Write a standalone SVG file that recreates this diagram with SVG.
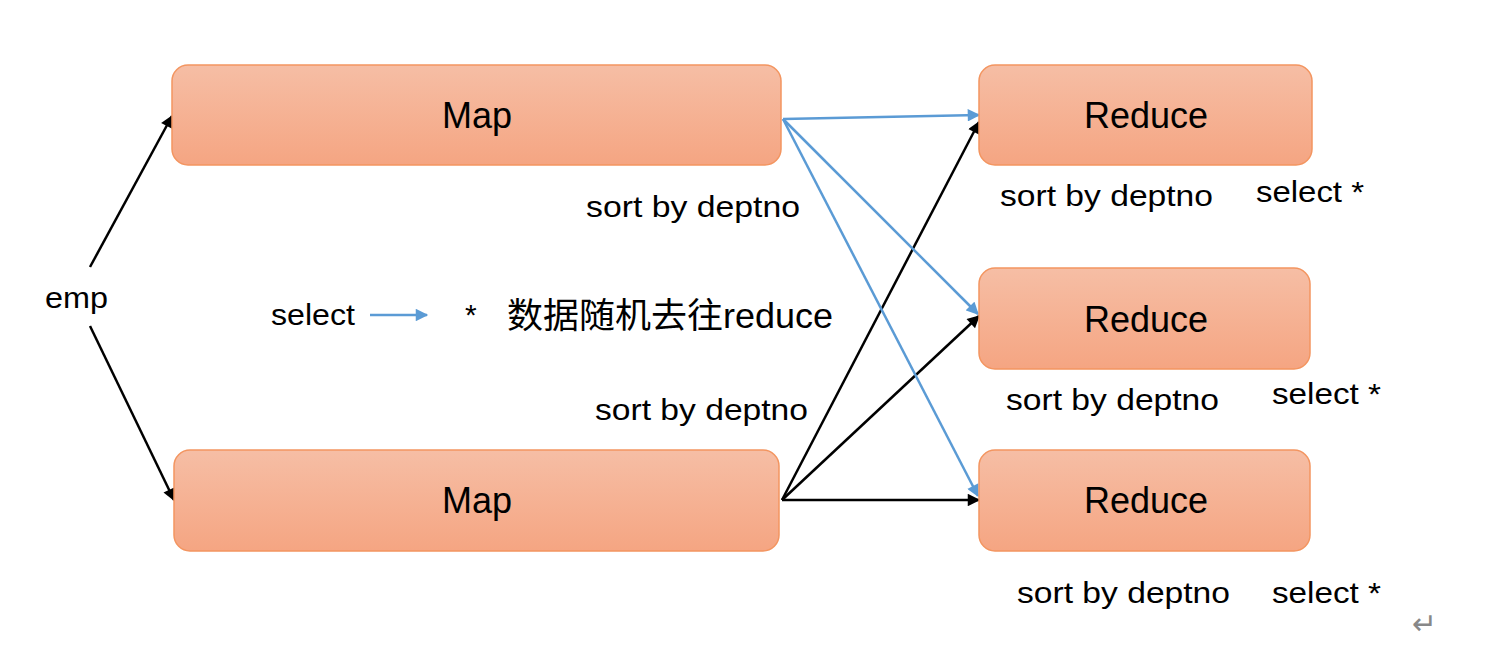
<svg xmlns="http://www.w3.org/2000/svg" width="1506" height="659" viewBox="0 0 1506 659">
<style>
.box{fill:url(#g);stroke:#F39560;stroke-width:1.5}
.t{font-family:"Liberation Sans",Arial,sans-serif;font-size:36px;fill:#000;text-anchor:middle}
.l{font-family:"Liberation Sans",Arial,sans-serif;font-size:30px;fill:#000}
.blk{stroke:#000;stroke-width:2.5;fill:none;marker-end:url(#ab)}
.blu{stroke:#5B9BD5;stroke-width:2.5;fill:none;marker-end:url(#au)}
</style>
<defs>
<linearGradient id="g" x1="0" y1="0" x2="0" y2="1">
<stop offset="0" stop-color="#F6BEA5"/>
<stop offset="1" stop-color="#F5A582"/>
</linearGradient>
<marker id="ab" viewBox="0 0 10 10" refX="9" refY="5" markerWidth="5.5" markerHeight="5" orient="auto" markerUnits="strokeWidth">
<path d="M0,0 L10,5 L0,10 z" fill="#000"/>
</marker>
<marker id="au" viewBox="0 0 10 10" refX="9" refY="5" markerWidth="5.5" markerHeight="5" orient="auto" markerUnits="strokeWidth">
<path d="M0,0 L10,5 L0,10 z" fill="#5B9BD5"/>
</marker>
</defs>
<rect width="1506" height="659" fill="#fff"/>
<g id="connectors">
<line class="blk" x1="90" y1="267" x2="172" y2="116"/>
<line class="blk" x1="90" y1="326" x2="174" y2="500"/>
<line class="blk" x1="782" y1="500" x2="979" y2="122"/>
<line class="blk" x1="782" y1="500" x2="979" y2="316"/>
<line class="blk" x1="782" y1="500" x2="979" y2="500"/>
<line class="blu" x1="783" y1="119" x2="979" y2="115"/>
<line class="blu" x1="783" y1="119" x2="978" y2="314"/>
<line class="blu" x1="783" y1="119" x2="978" y2="496"/>
<line class="blu" x1="370" y1="315" x2="427" y2="315"/>
</g>
<g id="map1"><rect class="box" x="172" y="65" width="609" height="100" rx="16"/><text class="t" x="477" y="128">Map</text></g>
<g id="map2"><rect class="box" x="174" y="450" width="605" height="101" rx="16"/><text class="t" x="477" y="513">Map</text></g>
<g id="reduce1"><rect class="box" x="979" y="65" width="333" height="100" rx="16"/><text class="t" x="1146" y="128">Reduce</text></g>
<g id="reduce2"><rect class="box" x="979" y="268" width="331" height="101" rx="16"/><text class="t" x="1146" y="332">Reduce</text></g>
<g id="reduce3"><rect class="box" x="979" y="450" width="331" height="101" rx="16"/><text class="t" x="1146" y="513">Reduce</text></g>
<g id="labels">
<text class="l" x="45" y="308" textLength="63" lengthAdjust="spacingAndGlyphs">emp</text>
<text class="l" x="586" y="217" textLength="214" lengthAdjust="spacingAndGlyphs">sort by deptno</text>
<text class="l" x="595" y="420" textLength="213" lengthAdjust="spacingAndGlyphs">sort by deptno</text>
<text class="l" x="1000" y="206" textLength="213" lengthAdjust="spacingAndGlyphs">sort by deptno</text>
<text class="l" x="1256" y="202" textLength="108" lengthAdjust="spacingAndGlyphs">select *</text>
<text class="l" x="1006" y="410" textLength="213" lengthAdjust="spacingAndGlyphs">sort by deptno</text>
<text class="l" x="1272" y="404" textLength="109" lengthAdjust="spacingAndGlyphs">select *</text>
<text class="l" x="1017" y="603" textLength="213" lengthAdjust="spacingAndGlyphs">sort by deptno</text>
<text class="l" x="1272" y="603" textLength="109" lengthAdjust="spacingAndGlyphs">select *</text>
<text class="l" x="271" y="325" textLength="84" lengthAdjust="spacingAndGlyphs">select</text>
<text class="l" x="465" y="325">*</text>
<text x="507" y="328" style="font-family:'Liberation Sans','Noto Sans CJK SC',sans-serif;font-size:35px" textLength="326" lengthAdjust="spacingAndGlyphs">数据随机去往reduce</text>
<text x="1412" y="634" style="font-family:'DejaVu Sans',sans-serif;font-size:30px;fill:#888">↵</text>
</g>
</svg>
